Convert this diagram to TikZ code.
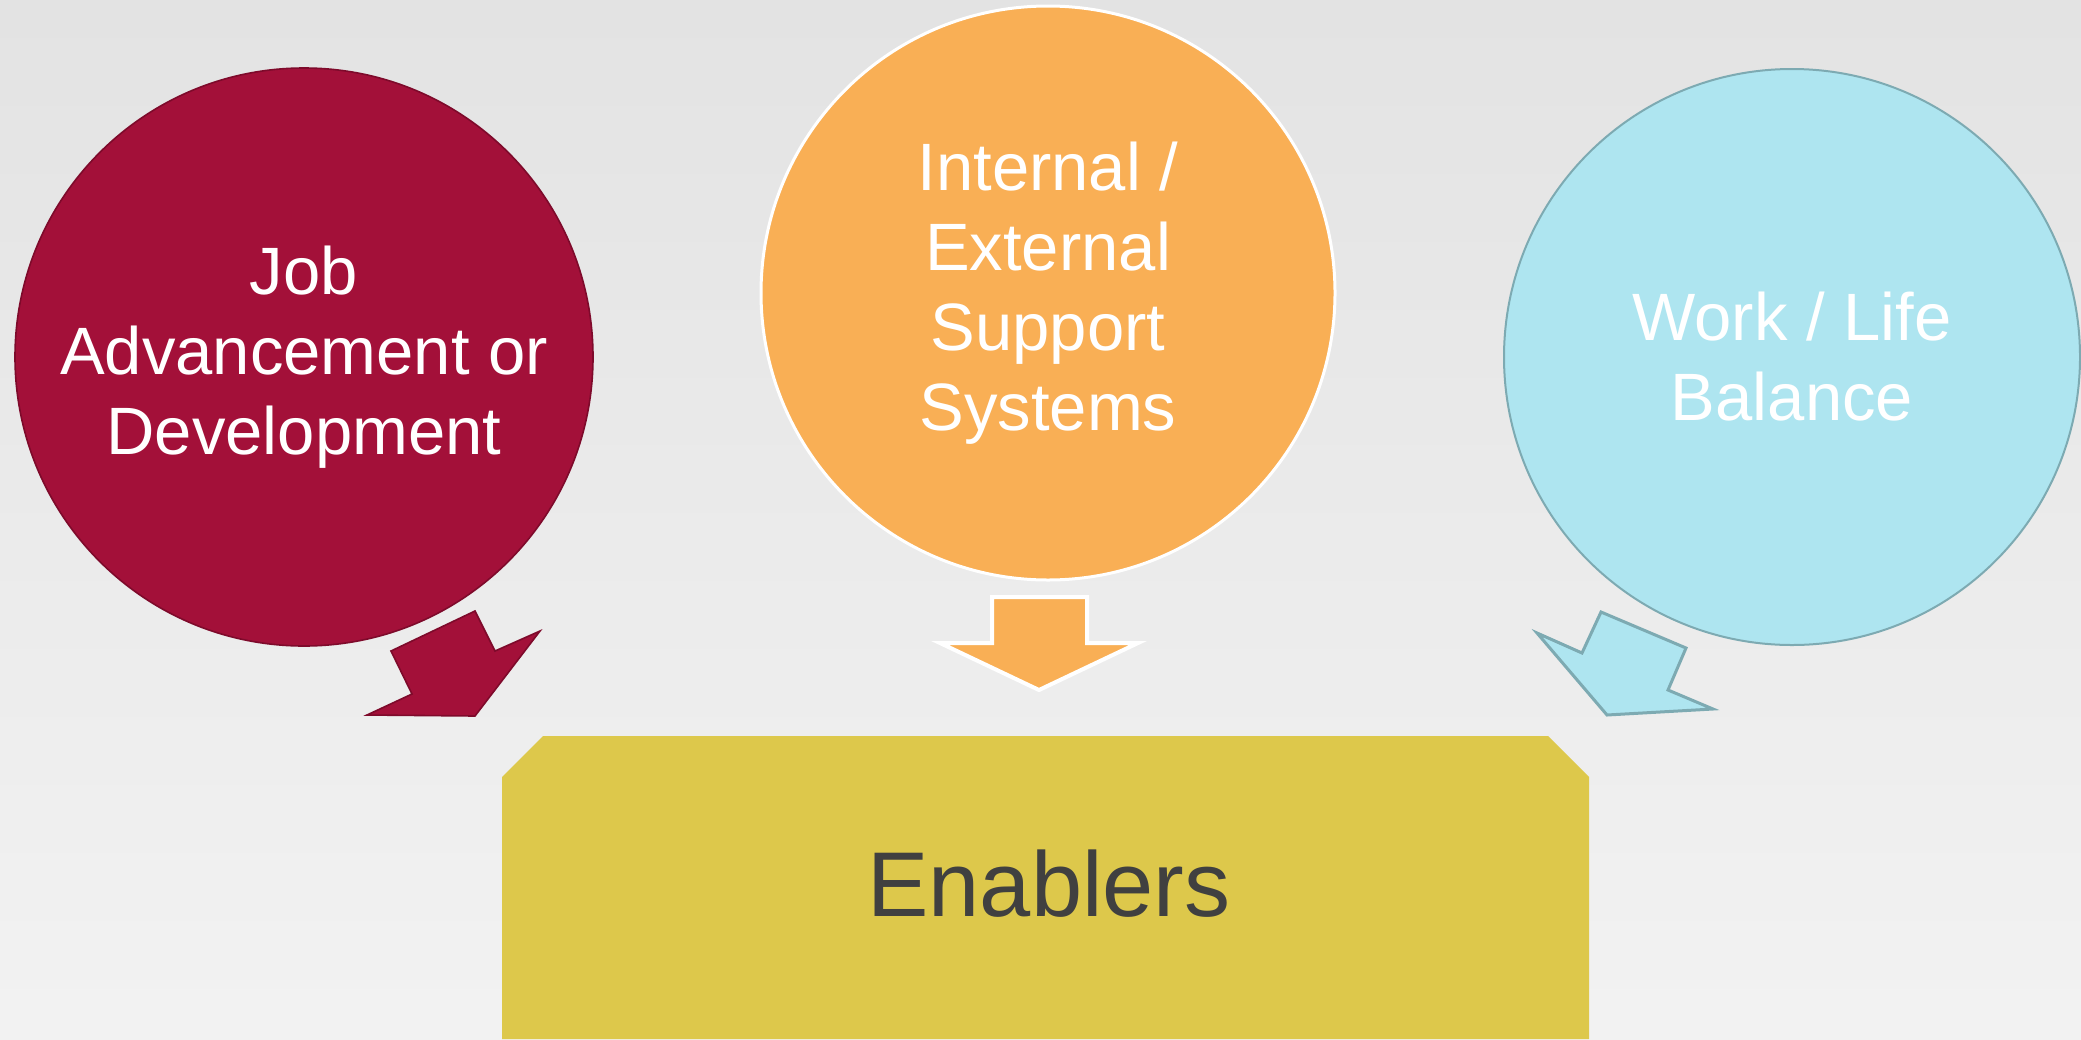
\documentclass[tikz,border=0pt]{standalone}
\usepackage{fontspec}
\setmainfont{Liberation Sans}
\definecolor{crimson}{HTML}{A31039}
\definecolor{crimsonedge}{HTML}{7E0A2B}
\definecolor{apricot}{HTML}{F9AF55}
\definecolor{skyblue}{HTML}{AEE5F0}
\definecolor{skyedge}{HTML}{7DAAB2}
\definecolor{mustard}{HTML}{DDC84B}
\definecolor{inkgrey}{HTML}{404040}
\begin{document}
\begin{tikzpicture}[x=0.5pt,y=-0.5pt,
  bubble/.style={circle, inner sep=0pt, align=center, text=white,
    font=\fontsize{33.5}{40}\selectfont},
  blockarrow/.style={line width=1.5pt, line join=miter}]
% backdrop
\useasboundingbox (0,0) rectangle (2081,1039);
\fill[top color=black!11, middle color=black!4, bottom color=black!5]
  (0,0) rectangle (2081,1039);

% three themes
\node[bubble, minimum size=289pt, fill=crimson, draw=crimsonedge, line width=0.8pt]
  (job) at (304,357) {Job\\Advancement or\\Development};
\node[bubble, minimum size=287pt, fill=apricot, draw=white, line width=1.5pt]
  (support) at (1048,293) {Internal /\\External\\Support\\Systems};
\node[bubble, minimum size=288pt, fill=skyblue, draw=skyedge, line width=1pt]
  (balance) at (1792,357) {Work / Life\\Balance};

% base block
\fill[mustard] (502,1039) -- (502,777) -- (543,736) -- (1548,736)
  -- (1589,777) -- (1589,1039) -- cycle;
\node[text=inkgrey, font=\fontsize{46}{52}\selectfont] (enablers)
  at (1049,884) {Enablers};

% block arrows into the base
\draw[blockarrow, fill=crimson, draw=crimsonedge, line width=0.8pt]
  (475,611) -- (495,651) -- (540,631) -- (475,716) -- (367,715)
  -- (412,694) -- (391,651) -- cycle;
\draw[blockarrow, fill=apricot, draw=white, line width=2pt]
  (992,597) -- (1087,597) -- (1087,643) -- (1138,643) -- (1039,690)
  -- (940,643) -- (992,643) -- cycle;
\draw[blockarrow, fill=skyblue, draw=skyedge]
  (1601,612) -- (1686,648) -- (1668,690) -- (1713,709) -- (1607,715)
  -- (1537,633) -- (1582,653) -- cycle;
\end{tikzpicture}
\end{document}
